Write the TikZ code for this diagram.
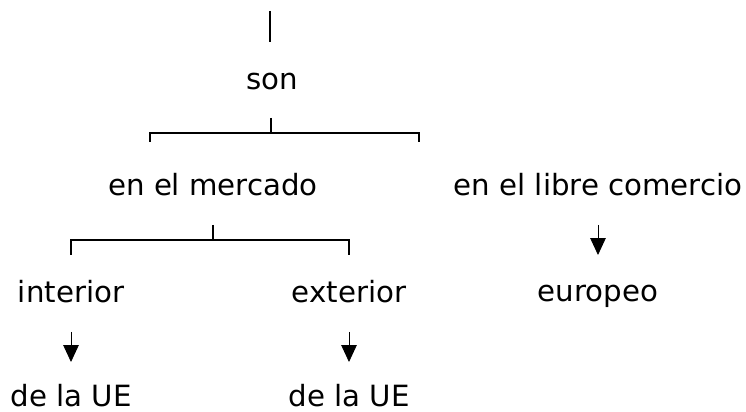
\documentclass[tikz,border=0pt]{standalone}
\usepackage{fontspec}
\setmainfont{DejaVu Sans}
\usetikzlibrary{arrows.meta}

\begin{document}
\begin{tikzpicture}[
        x=0.025cm, y=-0.025cm,
        word/.style={anchor=base, inner sep=0pt, font=\fontsize{20.8}{24}\selectfont},
        bracket/.style={line width=1.4pt},
        arrow/.style={line width=0.6pt, -{Triangle[length=12pt, width=11pt]}}
    ]
        \useasboundingbox (0,0) rectangle (746,412);

        % Levels
        \node[word] (son) at (272, 90) {son};

        \node[word] (mercado) at (213, 196) {en el mercado};
        \node[word] (libre) at (598, 196) {en el libre comercio};

        \node[word] (interior) at (71, 303) {interior};
        \node[word] (exterior) at (349, 303) {exterior};
        \node[word] (europeo) at (598, 302) {europeo};

        \node[word] (ueint) at (71, 407) {de la UE};
        \node[word] (ueext) at (349, 407) {de la UE};

        % Connector points
        \coordinate (top1) at (270, 11);
        \coordinate (top2) at (270, 42);
        \coordinate (s1) at (271, 118);
        \coordinate (s2) at (271, 133);
        \coordinate (sl) at (150, 142);
        \coordinate (sr) at (419, 142);
        \coordinate (m1) at (213, 225);
        \coordinate (m2) at (213, 240);
        \coordinate (ml) at (71, 255);
        \coordinate (mr) at (349, 255);
        \coordinate (l1) at (598, 225);
        \coordinate (l2) at (598, 255);
        \coordinate (i1) at (71, 332);
        \coordinate (i2) at (71, 362);
        \coordinate (e1) at (349, 332);
        \coordinate (e2) at (349, 362);

        % Brackets
        \draw[bracket] (top1) -- (top2);
        \draw[bracket] (s1) -- (s2);
        \draw[bracket] (sl) |- (s2) -| (sr);
        \draw[bracket] (m1) -- (m2);
        \draw[bracket] (ml) |- (m2) -| (mr);

        % Arrows
        \draw[arrow] (l1) -- (l2);
        \draw[arrow] (i1) -- (i2);
        \draw[arrow] (e1) -- (e2);
    \end{tikzpicture}
\end{document}
